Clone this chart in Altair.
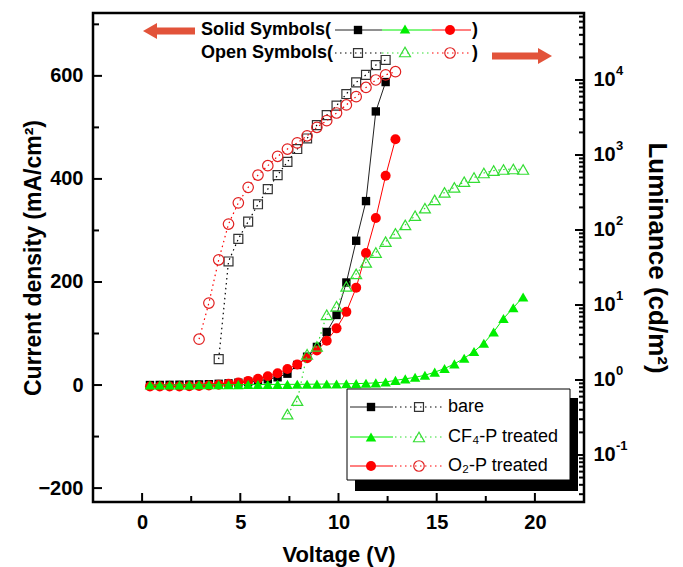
import altair as alt
import pandas as pd

# ---------------- data ----------------
bare_vj = [0.4, 0.9, 1.4, 1.9, 2.4, 2.9, 3.4, 3.9, 4.4, 4.9, 5.4, 5.9, 6.4, 6.9, 7.4, 7.9, 8.4, 8.9, 9.4, 9.9, 10.4, 10.9, 11.4, 11.9, 12.4]
bare_j = [0, 0.2, 0.4, 0.6, 0.9, 1.2, 1.7, 2.4, 3.3, 4.5, 6, 8, 11, 15, 22, 39, 55, 74, 103, 136, 199, 280, 357, 531, 588]

cf4_vj = [0.4, 0.9, 1.4, 1.9, 2.4, 2.9, 3.4, 3.9, 4.4, 4.9, 5.4, 5.9, 6.4, 6.9, 7.4, 7.9, 8.4, 8.9, 9.4, 9.9,
          10.4, 10.9, 11.4, 11.9, 12.4, 12.9, 13.4, 13.9, 14.4, 14.9, 15.4, 15.9, 16.4, 16.9, 17.4, 17.9, 18.4, 18.9, 19.4]
cf4_j = [0, 0, 0, 0.2, 0.3, 0.4, 0.5, 0.6, 0.7, 0.8, 0.9, 1.0, 1.1, 1.2, 1.3, 1.4, 1.5, 1.7, 1.9, 2.1,
         2.4, 2.8, 3.3, 4.2, 6, 9, 12, 15, 19, 25, 32, 41, 52, 65, 81, 103, 129, 150, 171]

o2_vj = [0.4, 0.9, 1.4, 1.9, 2.4, 2.9, 3.4, 3.9, 4.4, 4.9, 5.4, 5.9, 6.4, 6.9, 7.4, 7.9, 8.4, 8.9, 9.4, 9.9, 10.4, 10.9, 11.4, 11.9, 12.4, 12.9]
o2_j = [-3, -3, -3, -3, -2.5, -2, -1, 0.5, 2.5, 5, 8, 12, 17, 23, 31, 40, 52, 67, 86, 110, 142, 189, 256, 324, 406, 477]

bare_vl = [3.9, 4.4, 4.9, 5.4, 5.9, 6.4, 6.9, 7.4, 7.9, 8.4, 8.9, 9.4, 9.9, 10.4, 10.9, 11.4, 11.9, 12.4]
bare_l = [1.9, 38, 76, 129, 220, 350, 540, 810, 1200, 1660, 2500, 3400, 4550, 6500, 9300, 11700, 15800, 18500]

o2_vl = [2.9, 3.4, 3.9, 4.4, 4.9, 5.4, 5.9, 6.4, 6.9, 7.4, 7.9, 8.4, 8.9, 9.4, 9.9, 10.4, 10.9, 11.4, 11.9, 12.4, 12.9]
o2_l = [3.5, 10.6, 40, 120, 230, 370, 540, 720, 960, 1200, 1450, 1800, 2340, 2870, 3630, 4650, 6000, 7950, 10000, 11700, 12900]

cf4_vl = [7.4, 7.9, 8.4, 8.9, 9.4, 9.9, 10.4, 10.9, 11.4, 11.9, 12.4, 12.9, 13.4, 13.9, 14.4, 14.9, 15.4, 15.9, 16.4, 16.9, 17.4, 17.9, 18.4, 18.9, 19.4]
cf4_l = [0.35, 0.53, 2.2, 2.8, 7.4, 9.6, 17.7, 26, 37, 50, 70, 90, 117, 155, 195, 252, 317, 370, 440, 500, 575, 620, 640, 650, 640]

x_ticks_major = [0, 5, 10, 15, 20]
x_ticks_minor = [2.5, 7.5, 12.5, 17.5]
j_ticks_major = [-200, 0, 200, 400, 600]
j_ticks_minor = [-100, 100, 300, 500, 700]
l_ticks_major = [0.1, 1, 10, 100, 1000, 10000]
l_exponents = ["-1", "0", "1", "2", "3", "4"]
l_ticks_minor = [0.03, 0.04, 0.05, 0.06, 0.07, 0.08, 0.09,
                 0.2, 0.3, 0.4, 0.5, 0.6, 0.7, 0.8, 0.9,
                 2, 3, 4, 5, 6, 7, 8, 9,
                 20, 30, 40, 50, 60, 70, 80, 90,
                 200, 300, 400, 500, 600, 700, 800, 900,
                 2000, 3000, 4000, 5000, 6000, 7000, 8000, 9000,
                 20000, 30000, 40000, 50000, 60000, 70000]

legend_labels = ["bare", "CF\u2084-P treated", "O\u2082-P treated"]

# ---------------- layout / style ----------------
W, H = 491, 489
FONT = "Liberation Sans"
BLACK, GREEN, RED = "#000000", "#00ee00", "#ff0000"
GREEN_OPEN, RED_OPEN, GRAY_OPEN = "#33dd33", "#e02020", "#333333"
ARROW = "#e2533a"

xs = alt.Scale(domain=[-2.5, 22.5], nice=False, zero=False)
js = alt.Scale(domain=[-227, 722], nice=False, zero=False)
ls = alt.Scale(type="log", domain=[0.0236, 78200], nice=False)

x_axis = alt.Axis(values=x_ticks_major, ticks=False, tickSize=0, domain=False, grid=False,
                  labelFont=FONT, labelFontSize=20, labelFontWeight="bold", labelColor="black",
                  labelPadding=10, title="Voltage (V)", titleFont=FONT, titleFontSize=22,
                  titleFontWeight="bold", titleColor="black", titleY=52, titleBaseline="middle")
j_axis = alt.Axis(values=j_ticks_major, ticks=False, tickSize=0, domain=False, grid=False,
                  labelFont=FONT, labelFontSize=20, labelFontWeight="bold", labelColor="black",
                  labelPadding=10, title="Current density (mA/cm\u00b2)", titleFont=FONT,
                  titleFontSize=23, titleFontWeight="bold", titleColor="black",
                  titleX=-60, titleBaseline="middle")
l_axis = alt.Axis(orient="right", values=l_ticks_major, ticks=False, tickSize=0, domain=False, grid=False,
                  labelFont=FONT, labelFontSize=20, labelFontWeight="bold", labelColor="black",
                  labelPadding=9, labelExpr="'10'",
                  title="Luminance (cd/m\u00b2)", titleFont=FONT, titleFontSize=26,
                  titleFontWeight="bold", titleColor="black", titleX=72, titleBaseline="middle")

X = alt.X("V:Q", scale=xs, axis=x_axis)


def series(vs, ys, field, scale, axis, line_color, dash, shape, size, filled, mcolor):
    df = pd.DataFrame({"V": vs, field: ys})
    y = alt.Y(f"{field}:Q", scale=scale, axis=axis)
    lk = dict(color=line_color, strokeWidth=1.2 if dash else 1)
    if dash:
        lk["strokeDash"] = dash
    line = alt.Chart(df).mark_line(**lk).encode(x=X, y=y)
    if filled:
        pts = alt.Chart(df).mark_point(shape=shape, size=size, filled=True, color=mcolor, opacity=1).encode(x=X, y=y)
    else:
        pts = alt.Chart(df).mark_point(shape=shape, size=size, filled=False, color=mcolor, strokeWidth=1.2, opacity=1).encode(x=X, y=y)
    return [line, pts]


def yticks(vals, field, scale, axis, length, side):
    df = pd.DataFrame({field: vals})
    y = alt.Y(f"{field}:Q", scale=scale, axis=axis)
    if side == "left":
        return alt.Chart(df).mark_rule(color="black", strokeWidth=2).encode(y=y, x=alt.value(0), x2=alt.value(length))
    return alt.Chart(df).mark_rule(color="black", strokeWidth=2).encode(y=y, x=alt.value(W - length), x2=alt.value(W))


DOT = [1.5, 3.5]

left_layers = []
left_layers += series(bare_vj, bare_j, "J", js, j_axis, "#222222", None, "square", 70, True, BLACK)
left_layers += series(o2_vj, o2_j, "J", js, j_axis, RED, None, "circle", 100, True, RED)
left_layers += series(cf4_vj, cf4_j, "J", js, j_axis, GREEN, None, "triangle-up", 110, True, GREEN)
left_layers.append(yticks(j_ticks_major, "J", js, j_axis, 9, "left"))
left_layers.append(yticks(j_ticks_minor, "J", js, j_axis, 6, "left"))

right_layers = []
right_layers += series(cf4_vl, cf4_l, "L", ls, l_axis, GREEN_OPEN, DOT, "triangle-up", 120, False, GREEN_OPEN)
right_layers += series(bare_vl, bare_l, "L", ls, l_axis, BLACK, DOT, "square", 80, False, GRAY_OPEN)
right_layers += series(o2_vl, o2_l, "L", ls, l_axis, RED, DOT, "circle", 110, False, RED_OPEN)
right_layers.append(yticks(l_ticks_major, "L", ls, l_axis, 9, "right"))
right_layers.append(yticks(l_ticks_minor, "L", ls, l_axis, 5, "right"))
# superscript exponents of the log-axis labels
exp_df = pd.DataFrame({"L": l_ticks_major, "e": l_exponents})
right_layers.append(
    alt.Chart(exp_df).mark_text(font=FONT, fontSize=13, fontWeight="bold", align="left",
                                baseline="middle", color="black", dy=-9).encode(
        y=alt.Y("L:Q", scale=ls, axis=l_axis), x=alt.value(W + 32), text="e:N"))

# x ticks (inward)
xt_major = alt.Chart(pd.DataFrame({"V": x_ticks_major})).mark_rule(color="black", strokeWidth=2).encode(
    x=X, y=alt.value(H - 9), y2=alt.value(H))
xt_minor = alt.Chart(pd.DataFrame({"V": x_ticks_minor})).mark_rule(color="black", strokeWidth=2).encode(
    x=X, y=alt.value(H - 6), y2=alt.value(H))

one = pd.DataFrame({"a": [0]})


def hrule(x1, x2, y, color, width=1.0, dash=None):
    kw = dict(color=color, strokeWidth=width)
    if dash:
        kw["strokeDash"] = dash
    return alt.Chart(one).mark_rule(**kw).encode(x=alt.value(x1), x2=alt.value(x2), y=alt.value(y))


def pt(x, y, shape, size, color, filled, sw=1.2):
    return alt.Chart(one).mark_point(shape=shape, size=size, filled=filled, color=color, opacity=1,
                                     strokeWidth=sw).encode(x=alt.value(x), y=alt.value(y))


def txt(x, y, t, size, weight="normal", align="left"):
    return alt.Chart(one).mark_text(text=t, font=FONT, fontSize=size, fontWeight=weight, align=align,
                                    baseline="middle", color="black").encode(x=alt.value(x), y=alt.value(y))


def box(x1, x2, y1, y2, fill, stroke=None):
    kw = dict(fill=fill)
    if stroke:
        kw.update(stroke=stroke, strokeWidth=1)
    else:
        kw.update(strokeWidth=0)
    return alt.Chart(one).mark_rect(**kw).encode(x=alt.value(x1), x2=alt.value(x2), y=alt.value(y1), y2=alt.value(y2))


decor = [xt_major, xt_minor]

# legend with shadow
decor.append(box(262, 485, 385, 478, "black"))
decor.append(box(254, 477, 376, 467, "white", "black"))
rows = [(394, "#222222", BLACK, GRAY_OPEN, "square", 70, 80),
        (424, GREEN, GREEN, GREEN_OPEN, "triangle-up", 110, 120),
        (453, RED, RED, RED_OPEN, "circle", 100, 110)]
line_open_colors = [BLACK, GREEN_OPEN, RED]
for (yy, lc, mc, oc, shp, s1, s2), lab, loc in zip(rows, legend_labels, line_open_colors):
    decor.append(hrule(257, 300, yy, lc, 1))
    decor.append(hrule(302, 350, yy, loc, 1.2, DOT))
    decor.append(pt(278, yy, shp, s1, mc, True))
    decor.append(pt(326, yy, shp, s2, oc, False))
    decor.append(txt(355, yy, lab, 18))

# top annotation
decor.append(txt(108, 17, "Solid Symbols(", 18, "bold"))
decor.append(txt(108, 40, "Open Symbols(", 18, "bold"))
decor.append(hrule(242, 289, 17, "#222222", 1))
decor.append(hrule(289, 339, 17, GREEN, 1))
decor.append(hrule(339, 378, 17, RED, 1))
decor.append(pt(265, 17, "square", 70, BLACK, True))
decor.append(pt(312, 16, "triangle-up", 110, GREEN, True))
decor.append(pt(357, 17, "circle", 100, RED, True))
decor.append(txt(379, 17, ")", 18, "bold"))
decor.append(hrule(242, 289, 40, BLACK, 1.2, DOT))
decor.append(hrule(289, 339, 40, GREEN_OPEN, 1.2, DOT))
decor.append(hrule(339, 378, 40, RED, 1.2, DOT))
decor.append(pt(265, 40, "square", 80, GRAY_OPEN, False))
decor.append(pt(312, 39, "triangle-up", 120, GREEN_OPEN, False))
decor.append(pt(357, 40, "circle", 110, RED_OPEN, False))
decor.append(txt(379, 40, ")", 18, "bold"))

# arrows
decor.append(hrule(57, 102, 18, ARROW, 7))
decor.append(pt(57, 18, "triangle-left", 260, ARROW, True, 0))
decor.append(hrule(399, 452, 43, ARROW, 7))
decor.append(pt(452, 43, "triangle-right", 260, ARROW, True, 0))

left = alt.layer(*left_layers)
right = alt.layer(*right_layers)
deco = alt.layer(*decor)

chart = alt.layer(left, right, deco).resolve_scale(y="independent").properties(
    width=W, height=H,
    autosize=alt.AutoSizeParams(type="none"),
    padding={"left": 85, "top": 5, "right": 91, "bottom": 65},
    background="white",
).configure_view(stroke="black", strokeWidth=2.5)

chart.save("out.html", embed_options={"renderer": "svg", "actions": False})
